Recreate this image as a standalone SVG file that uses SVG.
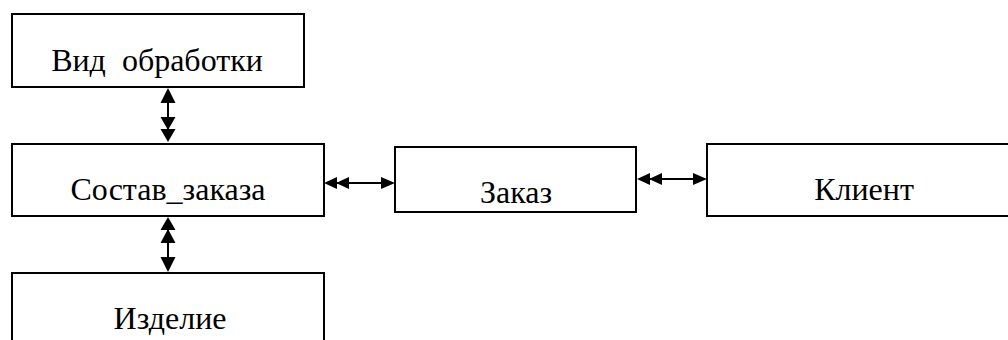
<svg xmlns="http://www.w3.org/2000/svg" width="1008" height="340" viewBox="0 0 1008 340">
<defs>
<style>
.box{fill:#fff;stroke:#000;stroke-width:2}
.lbl{font-family:'Liberation Serif','Times New Roman',serif;font-size:32px;fill:#000;text-anchor:middle}
.ln{stroke:#000;stroke-width:2;fill:none}
.hd{fill:#000;stroke:none}
</style>
</defs>
<rect width="1008" height="340" fill="#fff"/>
<g id="vid_obrabotki">
<rect class="box" x="12" y="14" width="292" height="73"/>
<text class="lbl" x="157" y="71" xml:space="preserve">Вид  обработки</text>
</g>
<g id="sostav_zakaza">
<rect class="box" x="12" y="144" width="312" height="72"/>
<text class="lbl" x="168" y="200">Состав_заказа</text>
</g>
<g id="zakaz">
<rect class="box" x="395" y="147" width="241" height="65"/>
<text class="lbl" x="516" y="203">Заказ</text>
</g>
<g id="klient">
<rect class="box" x="707" y="144" width="310" height="72"/>
<text class="lbl" x="864" y="200">Клиент</text>
</g>
<g id="izdelie">
<rect class="box" x="12" y="273" width="312" height="80"/>
<text class="lbl" x="170" y="329">Изделие</text>
</g>
<g id="connectors">
<line class="ln" x1="168" y1="92" x2="168" y2="138"/>
<polygon class="hd" points="168,88 160.5,103 175.5,103"/>
<polygon class="hd" points="168,130 160.5,117 175.5,117"/>
<polygon class="hd" points="168,142 160.5,129 175.5,129"/>
<line class="ln" x1="168" y1="220" x2="168" y2="268"/>
<polygon class="hd" points="168,217 160.5,230 175.5,230"/>
<polygon class="hd" points="168,229 160.5,243 175.5,243"/>
<polygon class="hd" points="168,272 160.5,257 175.5,257"/>
<line class="ln" x1="328" y1="183" x2="391" y2="183"/>
<polygon class="hd" points="324,183 337,177 337,189"/>
<polygon class="hd" points="336,183 349,177 349,189"/>
<polygon class="hd" points="395,183 381,177 381,189"/>
<line class="ln" x1="640" y1="179" x2="703" y2="179"/>
<polygon class="hd" points="637,179 650,173 650,185"/>
<polygon class="hd" points="649,179 662,173 662,185"/>
<polygon class="hd" points="707,179 693,173 693,185"/>
</g>
</svg>
